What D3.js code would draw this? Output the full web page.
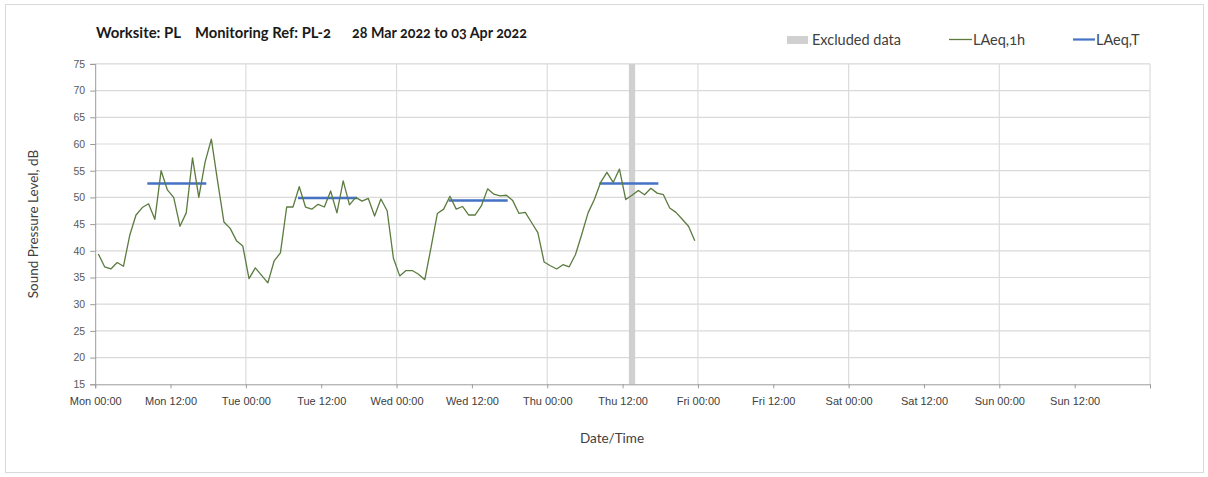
<!DOCTYPE html>
<html>
<head>
<meta charset="utf-8">
<script src="https://cdn.jsdelivr.net/npm/d3@7"></script>
<style>
  html, body { margin: 0; padding: 0; background: #fff; }
  svg { display: block; font-family: Lato, "Open Sans", sans-serif; font-variant-numeric: oldstyle-nums; }
</style>
</head>
<body>
<svg id="chart" width="1208" height="477"></svg>
<script>
// ---- Data ----
const periodStart = "2022-03-28T00:00";   // Mon 00:00
const periodEnd = "2022-04-04T00:00";     // following Mon 00:00
// Hourly LAeq,1h values, each plotted at the middle of its hour
const laeq1hMon = [39.4, 37.0, 36.6, 37.8, 37.1, 42.9, 46.7, 48.1, 48.8, 45.9, 55.0, 51.4, 50.0, 44.6, 47.1, 57.4, 50.0, 56.6, 60.9, 53.0, 45.4, 44.2, 41.9, 40.9];
const laeq1hTue = [34.8, 36.8, 35.4, 34.0, 38.1, 39.6, 48.2, 48.2, 52.0, 48.2, 47.8, 48.7, 48.2, 51.2, 47.1, 53.1, 48.6, 50.0, 49.3, 49.8, 46.5, 49.7, 47.5, 38.6];
const laeq1hWed = [35.3, 36.3, 36.3, 35.6, 34.6, 40.7, 47.0, 47.8, 50.2, 47.8, 48.3, 46.7, 46.7, 48.4, 51.6, 50.6, 50.3, 50.4, 49.4, 47.0, 47.2, 45.3, 43.4, 37.9];
const laeq1hThu = [37.2, 36.6, 37.4, 37.0, 39.3, 43.1, 47.1, 49.6, 52.8, 54.7, 52.8, 55.3, 49.6, 50.4, 51.3, 50.5, 51.7, 50.8, 50.5, 48.0, 47.2, 45.9, 44.6, 41.9];
// LAeq,T period values
const ltStart = ["2022-03-28T08:30", "2022-03-29T08:30", "2022-03-30T08:30", "2022-03-31T08:30"];
const ltEnd   = ["2022-03-28T17:30", "2022-03-29T17:30", "2022-03-30T17:30", "2022-03-31T17:30"];
const ltValue = [52.6, 49.9, 49.4, 52.6];
// Excluded data
const exclStart = ["2022-03-31T13:00"];
const exclEnd   = ["2022-03-31T14:00"];
// Axis ticks
const yTicks = [15, 20, 25, 30, 35, 40, 45, 50, 55, 60, 65, 70, 75];
const xTickLabels = ["Mon 00:00","Mon 12:00","Tue 00:00","Tue 12:00","Wed 00:00","Wed 12:00","Thu 00:00","Thu 12:00","Fri 00:00","Fri 12:00","Sat 00:00","Sat 12:00","Sun 00:00","Sun 12:00"];

const titleParts = ["Worksite: PL", "Monitoring Ref: PL-2", "28 Mar 2022 to 03 Apr 2022"];
const legendLabels = ["Excluded data", "LAeq,1h", "LAeq,T"];

// ---- Setup ----
const parse = d3.utcParse("%Y-%m-%dT%H:%M");
const t0 = parse(periodStart), t1 = parse(periodEnd);
const hourly = [].concat(laeq1hMon, laeq1hTue, laeq1hWed, laeq1hThu)
  .map((v, i) => ({ t: d3.utcMinute.offset(t0, i * 60 + 30), v }));

const svg = d3.select("#chart");
const plot = { left: 95.2, right: 1150, top: 63.9, bottom: 384.3 };
const x = d3.scaleUtc().domain([t0, t1]).range([plot.left, plot.right]);
const y = d3.scaleLinear().domain([15, 75]).range([plot.bottom, plot.top]);

// outer frame
svg.append("rect").attr("x", 5.5).attr("y", 4.5).attr("width", 1198).attr("height", 468)
  .attr("fill", "none").attr("stroke", "#d9d9d9");

// horizontal gridlines
svg.append("g").selectAll("line").data(yTicks.filter(d => d > 15)).join("line")
  .attr("x1", plot.left).attr("x2", plot.right)
  .attr("y1", d => y(d)).attr("y2", d => y(d))
  .attr("stroke", "#d9d9d9").attr("stroke-width", 1.2);

// vertical gridlines each day
const days = d3.utcDay.range(d3.utcDay.offset(t0, 1), d3.utcDay.offset(t1, 1));
svg.append("g").selectAll("line").data(days).join("line")
  .attr("x1", d => x(d)).attr("x2", d => x(d))
  .attr("y1", plot.top).attr("y2", plot.bottom)
  .attr("stroke", "#dcdcdc").attr("stroke-width", 1.2);

// excluded band
svg.append("g").selectAll("rect").data(exclStart.map((s, i) => [parse(s), parse(exclEnd[i])])).join("rect")
  .attr("x", d => x(d[0])).attr("width", d => x(d[1]) - x(d[0]))
  .attr("y", plot.top).attr("height", plot.bottom - plot.top)
  .attr("fill", "#d0d0d0");

// axes
const yAxis = d3.axisLeft(y).tickValues(yTicks).tickSize(5).tickPadding(5);
const gy = svg.append("g").attr("transform", `translate(${plot.left},0)`).call(yAxis);
gy.select(".domain").attr("stroke", "#9a9a9a");
gy.selectAll(".tick line").attr("stroke", "#9a9a9a");
gy.selectAll("text").attr("fill", "#595959").attr("font-size", 10.5);

const xTickDates = d3.utcHour.every(12).range(t0, d3.utcHour.offset(t1, 1));
const xAxis = d3.axisBottom(x).tickValues(xTickDates).tickSize(4).tickPadding(9)
  .tickFormat((d, i) => xTickLabels[i] || "");
const gx = svg.append("g").attr("transform", `translate(0,${plot.bottom})`).call(xAxis);
gx.select(".domain").attr("stroke", "#9a9a9a");
gx.selectAll(".tick line").attr("stroke", "#9a9a9a");
gx.selectAll("text").attr("fill", "#404040").attr("font-size", 11);

// LAeq,T lines
svg.append("g").selectAll("line").data(ltValue.map((v, i) => ({ s: parse(ltStart[i]), e: parse(ltEnd[i]), v }))).join("line")
  .attr("x1", d => x(d.s)).attr("x2", d => x(d.e))
  .attr("y1", d => y(d.v)).attr("y2", d => y(d.v))
  .attr("stroke", "#4472C4").attr("stroke-width", 2.5).attr("stroke-linecap", "square");

// LAeq,1h line
svg.append("path").datum(hourly)
  .attr("fill", "none").attr("stroke", "#5b7b3f").attr("stroke-width", 1.3)
  .attr("stroke-linejoin", "round")
  .attr("d", d3.line().x(d => x(d.t)).y(d => y(d.v)));

// Title
const titleX = [96, 195, 352];
const titleW = [85, 136, 175];
svg.append("g").selectAll("text").data(titleParts).join("text")
  .attr("x", (d, i) => titleX[i]).attr("y", 38)
  .attr("font-size", 14.5).attr("font-weight", "bold").attr("fill", "#1a1a1a")
  .attr("textLength", (d, i) => titleW[i]).attr("lengthAdjust", "spacingAndGlyphs")
  .text(d => d);

// Legend
const lg = svg.append("g").attr("font-size", 14.5).attr("fill", "#404040");
lg.append("rect").attr("x", 787).attr("y", 36).attr("width", 21).attr("height", 8).attr("fill", "#d0d0d0");
lg.append("text").attr("x", 812).attr("y", 45).text(legendLabels[0]);
lg.append("line").attr("x1", 949).attr("x2", 972).attr("y1", 39.5).attr("y2", 39.5).attr("stroke", "#5b7b3f").attr("stroke-width", 1.3);
lg.append("text").attr("x", 973).attr("y", 45).text(legendLabels[1]);
lg.append("line").attr("x1", 1073).attr("x2", 1095).attr("y1", 39.5).attr("y2", 39.5).attr("stroke", "#4472C4").attr("stroke-width", 2.2);
lg.append("text").attr("x", 1096).attr("y", 45).text(legendLabels[2]);

// Axis titles
svg.append("text").attr("transform", "translate(38,224) rotate(-90)")
  .attr("text-anchor", "middle").attr("font-size", 13.5).attr("fill", "#404040")
  .text("Sound Pressure Level, dB");
svg.append("text").attr("x", 612).attr("y", 443)
  .attr("text-anchor", "middle").attr("font-size", 13.5).attr("fill", "#404040")
  .text("Date/Time");
</script>
</body>
</html>
